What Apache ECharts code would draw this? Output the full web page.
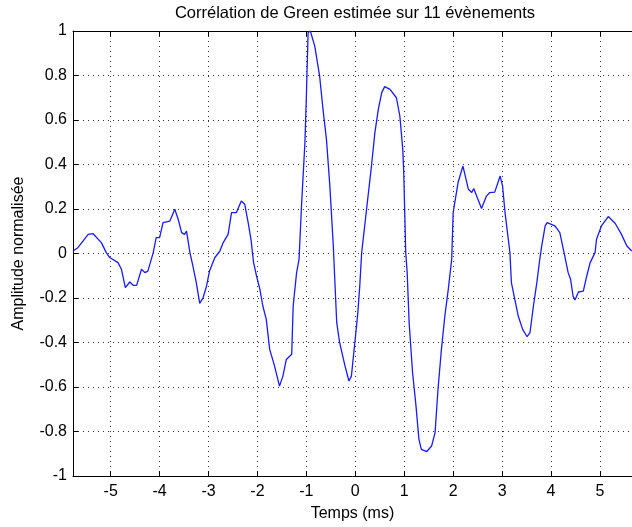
<!DOCTYPE html>
<html>
<head>
<meta charset="utf-8">
<script src="https://cdn.jsdelivr.net/npm/echarts@6/dist/echarts.min.js"></script>
<style>
html,body{margin:0;padding:0;background:#fff;}
#chart{width:632px;height:527px;}
</style>
</head>
<body>
<div id="chart"></div>
<script>
const titleText = 'Corrélation de Green estimée sur 11 évènements';
const xAxisName = 'Temps (ms)';
const yAxisName = 'Amplitude normalisée';

const times = [-5.77,-5.67,-5.46,-5.36,-5.19,-5.09,-5.02,-4.85,-4.78,-4.70,-4.61,-4.54,-4.47,-4.37,-4.30,-4.24,-4.13,-4.07,-4.00,-3.93,-3.79,-3.69,-3.62,-3.55,-3.49,-3.45,-3.38,-3.32,-3.25,-3.18,-3.11,-3.04,-2.98,-2.87,-2.77,-2.70,-2.60,-2.53,-2.43,-2.33,-2.26,-2.19,-2.13,-2.08,-2.02,-1.95,-1.89,-1.82,-1.75,-1.65,-1.55,-1.48,-1.41,-1.30,-1.27,-1.20,-1.15,-1.10,-1.03,-1.00,-0.965,-0.92,-0.83,-0.73,-0.66,-0.59,-0.52,-0.45,-0.38,-0.32,-0.21,-0.13,-0.08,-0.01,0.05,0.09,0.13,0.23,0.33,0.40,0.47,0.54,0.60,0.71,0.84,0.91,0.97,0.99,1.03,1.06,1.10,1.17,1.24,1.30,1.35,1.46,1.56,1.63,1.69,1.76,1.83,1.90,1.97,2.00,2.10,2.20,2.31,2.38,2.42,2.48,2.58,2.68,2.75,2.85,2.96,3.01,3.06,3.16,3.19,3.26,3.33,3.42,3.51,3.57,3.64,3.71,3.77,3.81,3.88,3.92,4.08,4.18,4.28,4.35,4.40,4.45,4.49,4.56,4.66,4.73,4.80,4.90,4.93,5.03,5.17,5.31,5.44,5.55,5.65];

const amplitude = [0.011,0.026,0.086,0.089,0.049,0.004,-0.018,-0.041,-0.071,-0.153,-0.128,-0.143,-0.143,-0.071,-0.086,-0.079,0.004,0.071,0.071,0.139,0.146,0.199,0.154,0.094,0.086,0.101,0.004,-0.056,-0.131,-0.224,-0.198,-0.146,-0.079,-0.018,0.01,0.049,0.086,0.184,0.184,0.236,0.221,0.139,0.06,-0.04,-0.10,-0.161,-0.236,-0.296,-0.431,-0.506,-0.596,-0.551,-0.476,-0.453,-0.236,-0.086,-0.026,0.213,0.498,0.708,0.993,1.0,0.933,0.798,0.648,0.513,0.303,0.034,-0.311,-0.401,-0.506,-0.573,-0.551,-0.401,-0.27,-0.15,0.004,0.199,0.393,0.543,0.648,0.723,0.750,0.738,0.700,0.618,0.468,0.364,0.004,-0.086,-0.311,-0.535,-0.685,-0.835,-0.880,-0.890,-0.865,-0.805,-0.610,-0.431,-0.281,-0.161,-0.026,0.184,0.319,0.393,0.289,0.274,0.292,0.258,0.202,0.258,0.274,0.276,0.348,0.303,0.184,0.004,-0.131,-0.206,-0.281,-0.341,-0.374,-0.356,-0.236,-0.131,-0.026,0.034,0.124,0.139,0.124,0.094,-0.011,-0.086,-0.116,-0.191,-0.209,-0.173,-0.169,-0.101,-0.041,0.004,0.064,0.124,0.166,0.136,0.086,0.034,0.011];

const xMin = -5.77, xMax = 5.655;
const yMin = -1, yMax = 1, yStep = 0.2;

const seriesData = times.map((t, i) => [t, amplitude[i]]);

const FONT = 'Liberation Sans, Arial, Helvetica, sans-serif';
const chart = echarts.init(document.getElementById('chart'), null, {renderer: 'canvas'});

const splitStyle = {show: true, lineStyle: {color: '#333', width: 1, type: [1, 4]}};

chart.setOption({
  animation: false,
  backgroundColor: '#fff',
  title: {
    text: titleText,
    left: 350,
    top: 0,
    textAlign: 'center',
    textStyle: {fontFamily: FONT, fontSize: 16.5, fontWeight: 'normal', color: '#000'}
  },
  grid: {left: 73, right: 0, top: 31, bottom: 50, containLabel: false},
  xAxis: [{
    type: 'value', min: xMin, max: xMax, splitNumber: 11,
    position: 'bottom',
    name: xAxisName, nameLocation: 'middle', nameGap: 30,
    nameTextStyle: {fontFamily: FONT, fontSize: 16, color: '#000'},
    axisLine: {show: true, onZero: false, lineStyle: {color: '#000', width: 1}},
    axisTick: {show: true, inside: true, length: 5, lineStyle: {color: '#000'}},
    axisLabel: {fontFamily: FONT, fontSize: 16, color: '#000', margin: 8, showMinLabel: false, showMaxLabel: false},
    splitLine: splitStyle
  }, {
    type: 'value', min: xMin, max: xMax, splitNumber: 11,
    position: 'top',
    axisLine: {show: true, onZero: false, lineStyle: {color: '#000', width: 1}},
    axisTick: {show: true, inside: true, length: 5, lineStyle: {color: '#000'}},
    axisLabel: {show: false},
    splitLine: {show: false}
  }],
  yAxis: {
    type: 'value', min: yMin, max: yMax, interval: yStep,
    name: yAxisName, nameLocation: 'middle', nameGap: 46,
    nameTextStyle: {fontFamily: FONT, fontSize: 16, color: '#000'},
    axisLine: {show: true, onZero: false, lineStyle: {color: '#000', width: 1}},
    axisTick: {show: true, inside: true, length: 5, lineStyle: {color: '#000'}},
    axisLabel: {fontFamily: FONT, fontSize: 16, color: '#000', margin: 6},
    splitLine: splitStyle
  },
  series: [{
    type: 'line',
    data: seriesData,
    xAxisIndex: 0,
    showSymbol: false,
    symbol: 'none',
    smooth: false,
    lineStyle: {color: '#1a1aff', width: 1.3},
    clip: true
  }]
});
</script>
</body>
</html>
